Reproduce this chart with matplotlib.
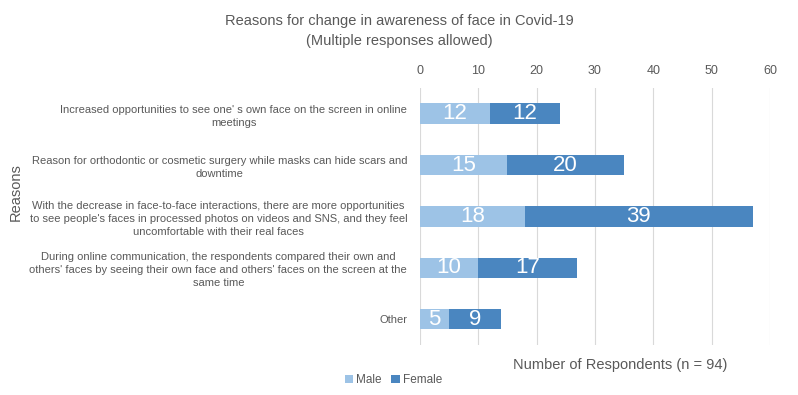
import numpy as np
import matplotlib.pyplot as plt

#---Data---
reasons = [
    "Increased opportunities to see one' s own face on the screen in online\nmeetings",
    "Reason for orthodontic or cosmetic surgery while masks can hide scars and\ndowntime",
    "With the decrease in face-to-face interactions, there are more opportunities\n"
    "to see people's faces in processed photos on videos and SNS, and they feel\n"
    "uncomfortable with their real faces",
    "During online communication, the respondents compared their own and\n"
    "others' faces by seeing their own face and others' faces on the screen at the\n"
    "same time",
    "Other",
]
male = [12, 15, 18, 10, 5]
female = [12, 20, 39, 17, 9]

plt.rcParams['font.family'] = ['Liberation Sans', 'DejaVu Sans']
grey = '#595959'
c_male = '#9dc3e6'
c_female = '#4a86c0'

fig = plt.figure(figsize=(7.98, 3.95), dpi=100)
ax = fig.add_axes([0.526, 0.127, 0.439, 0.65])

y = np.arange(len(reasons))
b1 = ax.barh(y, male, height=0.4, color=c_male, label='Male', zorder=3)
b2 = ax.barh(y, female, left=male, height=0.4, color=c_female, label='Female', zorder=3)
ax.bar_label(b1, label_type='center', color='white', fontsize=16)
ax.bar_label(b2, label_type='center', color='white', fontsize=16)

ax.set_ylim(4.5, -0.5)
ax.set_xlim(0, 60)
ax.set_xticks(range(0, 61, 10))
ax.xaxis.tick_top()
ax.tick_params(axis='x', length=0, labelcolor=grey, labelsize=9, pad=8)
ax.set_yticks(y)
ax.set_yticklabels(reasons, fontsize=8, color=grey, multialignment='center',
                   linespacing=1.35)
ax.tick_params(axis='y', length=0, pad=9)
ax.grid(axis='x', color='#d9d9d9', linewidth=0.8, zorder=0)
for s in ax.spines.values():
    s.set_visible(False)

fig.text(0.5, 0.948, "Reasons for change in awareness of face in Covid-19",
         ha='center', va='center', fontsize=10.5, color=grey)
fig.text(0.5, 0.895, "(Multiple responses allowed)",
         ha='center', va='center', fontsize=10.5, color=grey)
fig.text(0.777, 0.077, "Number of Respondents (n = 94)",
         ha='center', va='center', fontsize=10.5, color=grey)
fig.text(0.02, 0.515, "Reasons", ha='center', va='center', rotation=90,
         fontsize=10.5, color=grey)

fig.legend(loc='center', bbox_to_anchor=(0.493, 0.038), ncol=2, frameon=False,
           fontsize=8.5, handlelength=0.7, handleheight=0.7, handletextpad=0.3,
           columnspacing=0.8, labelcolor=grey)

plt.savefig("out.png", dpi=100)
